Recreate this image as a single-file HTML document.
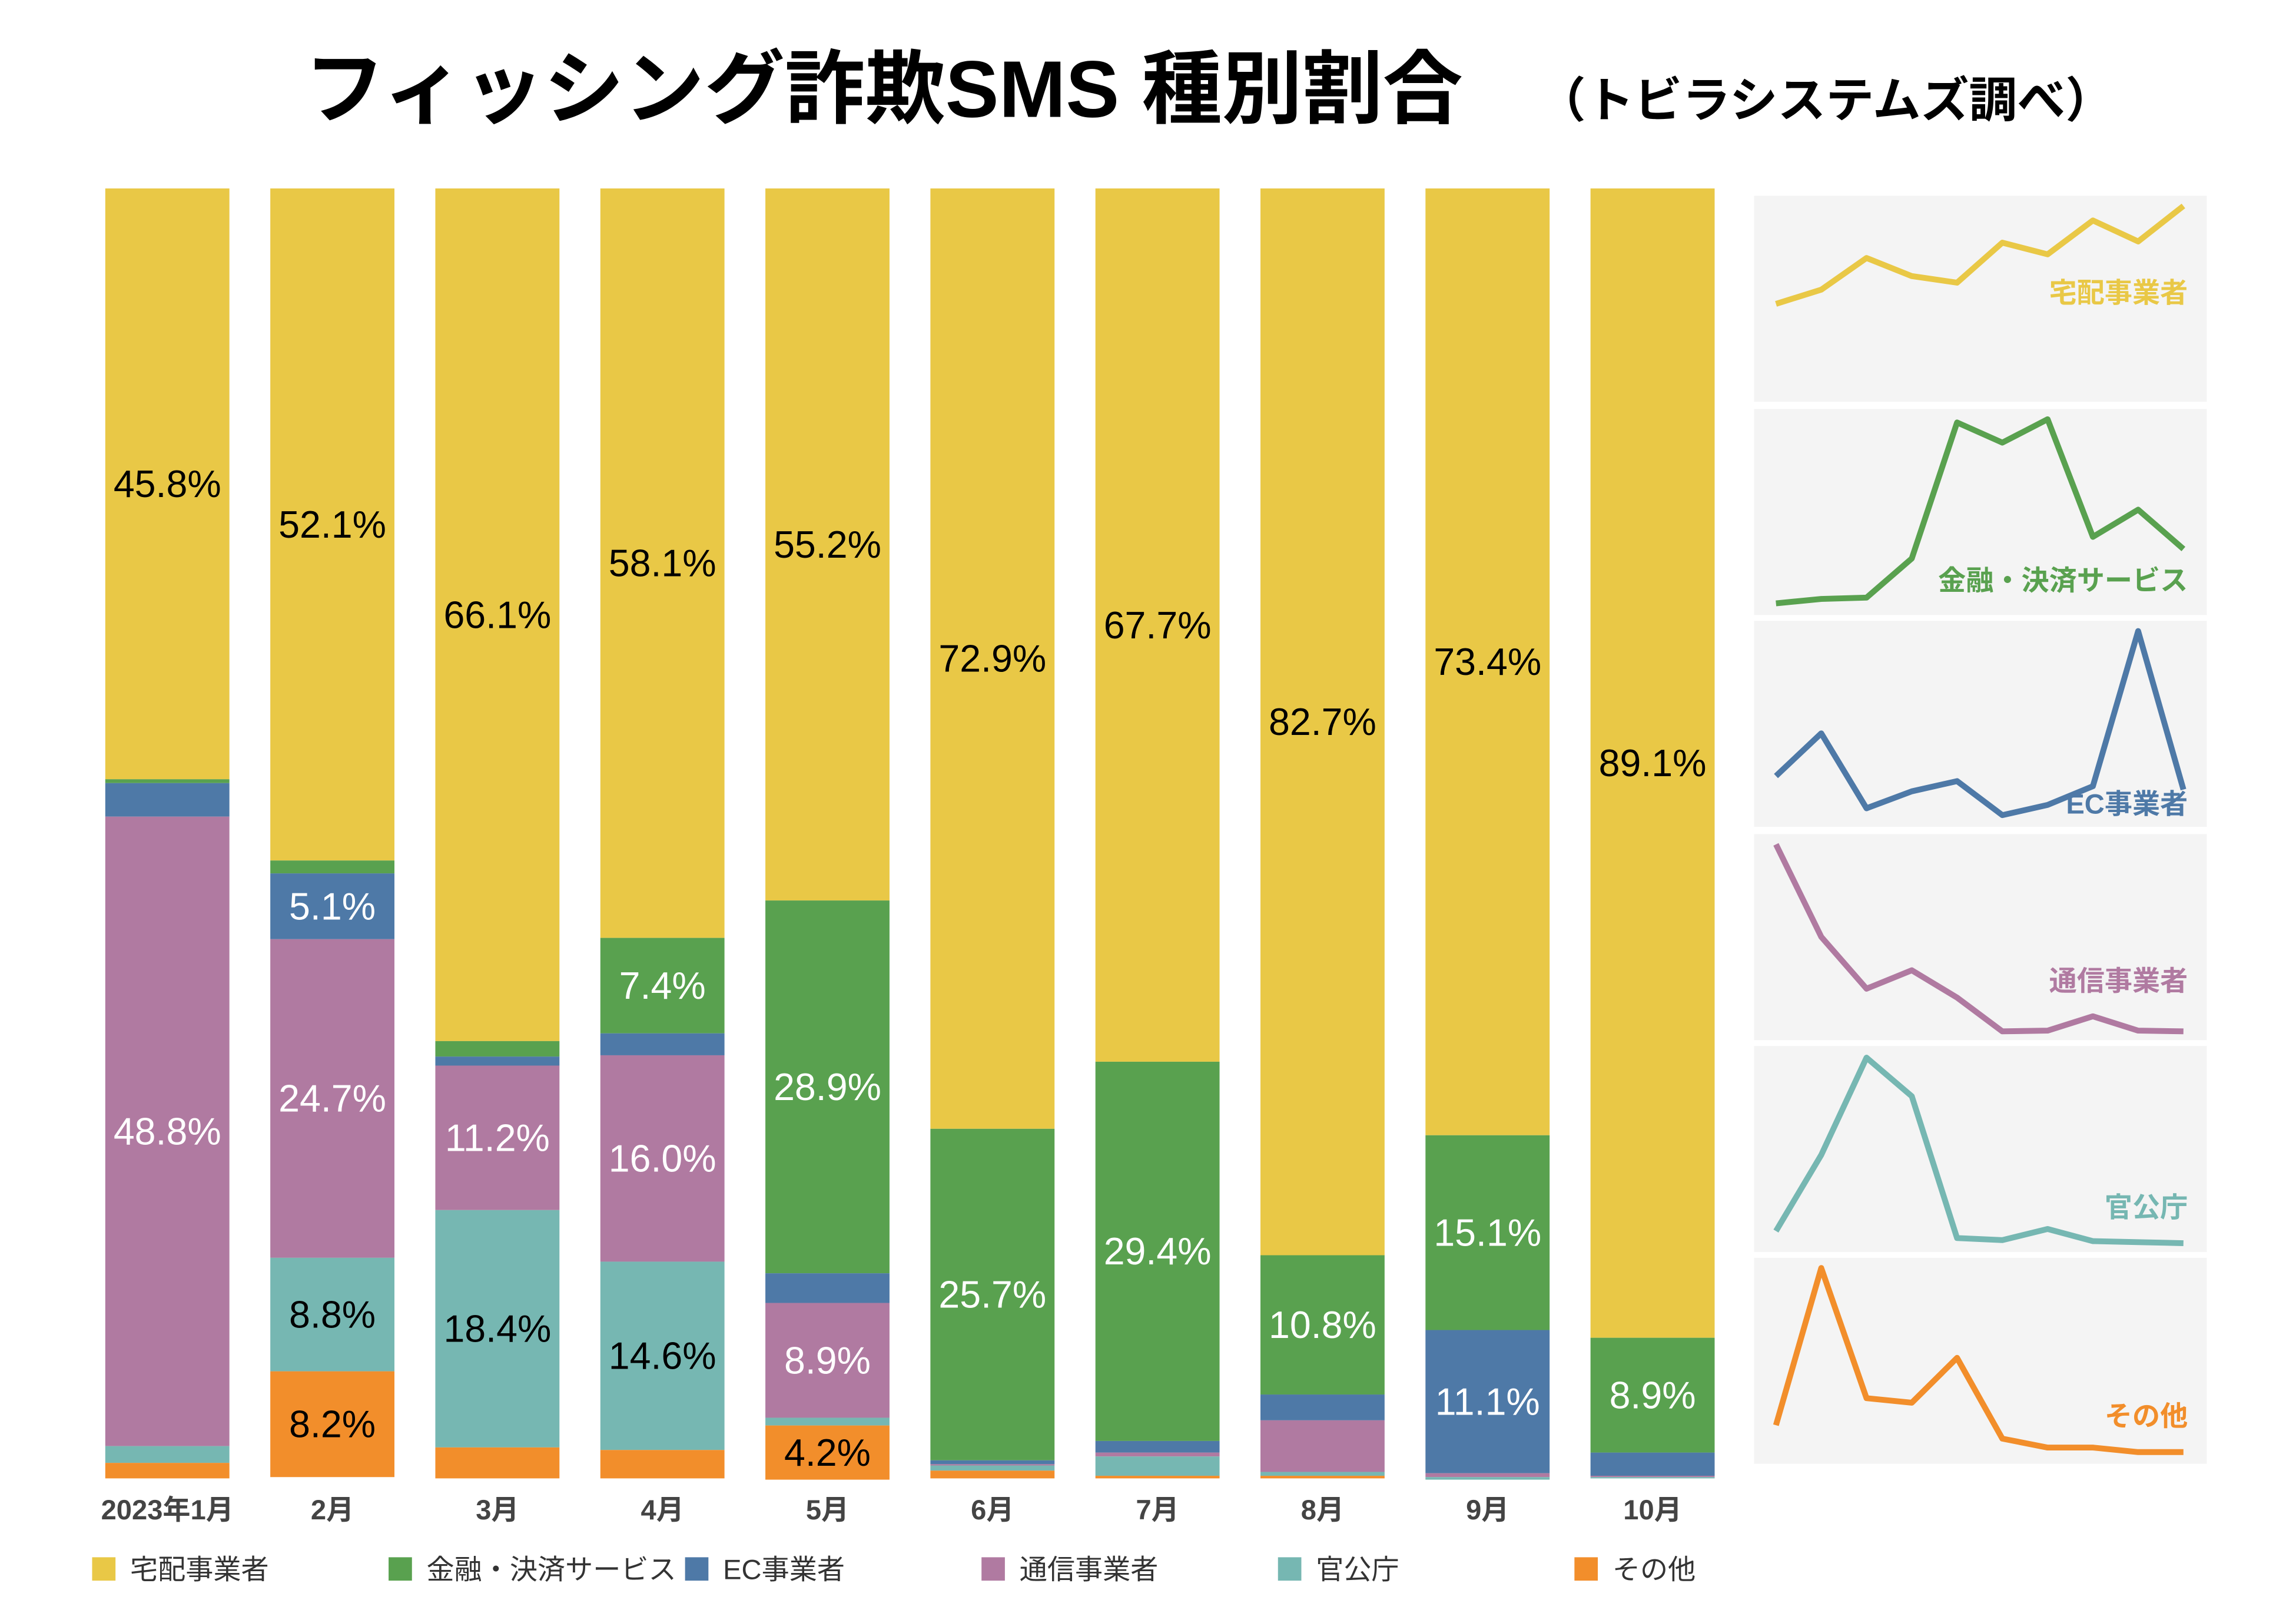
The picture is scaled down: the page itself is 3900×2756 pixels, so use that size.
<!DOCTYPE html>
<html><head><meta charset="utf-8"><style>
html,body{margin:0;padding:0;background:#fff;}
svg{display:block;font-family:"Liberation Sans","Noto Sans CJK JP",sans-serif;}
</style></head><body>
<svg id="chart" width="3900" height="2756" viewBox="0 0 1572 1111" xmlns="http://www.w3.org/2000/svg">
<rect width="1572" height="1111" fill="#fff"/>
<text x="605" y="80" text-anchor="middle" font-size="55" font-weight="bold" fill="#000">フィッシング詐欺SMS 種別割合</text>
<text x="1250" y="80" text-anchor="middle" font-size="33" font-weight="bold" fill="#000">（トビラシステムズ調べ）</text>
<g id="bars"></g><g id="spark"></g><g id="legend"></g>
</svg>
<script>
const months = ["2023年1月","2月","3月","4月","5月","6月","7月","8月","9月","10月"];
const seriesNames = ["宅配事業者","金融・決済サービス","EC事業者","通信事業者","官公庁","その他"];
const delivery = [45.8,52.1,66.1,58.1,55.2,72.9,67.7,82.7,73.4,89.1];
const finance  = [0.3,1.0,1.2,7.4,28.9,25.7,29.4,10.8,15.1,8.9];
const ec       = [2.6,5.1,0.7,1.7,2.3,0.3,0.9,2.0,11.1,1.8];
const telecom  = [48.8,24.7,11.2,16.0,8.9,0.1,0.3,4.0,0.3,0.1];
const gov      = [1.3,8.8,18.4,14.6,0.6,0.4,1.5,0.3,0.2,0.1];
const other    = [1.2,8.2,2.4,2.2,4.2,0.6,0.2,0.2,0.0,0.0];
const series = [delivery,finance,ec,telecom,gov,other];
const colors = ["#E9C846","#59A14F","#4E79A7","#B07AA1","#76B7B2","#F28E2B"];
const labelColors = ["#000","#fff","#fff","#fff","#000","#000"];
const NS="http://www.w3.org/2000/svg";
function mk(tag,attrs,parent){const e=document.createElementNS(NS,tag);for(const k in attrs)e.setAttribute(k,attrs[k]);parent.appendChild(e);return e;}
const barTop=129, barBot=1012, barW=85;
function xBar(i){return 72+i*113;}
function yVal(v){return barTop+(barBot-barTop)*v/100;}
const gb=document.getElementById('bars');
months.forEach((m,i)=>{
  let cum=0;
  series.forEach((s,k)=>{
    const v=s[i];
    const r=mk('rect',{x:xBar(i),y:yVal(cum),width:barW,height:Math.max(0,yVal(cum+v)-yVal(cum)),fill:colors[k]},gb);
    
    
    if(v>=4.1){
      const t=mk('text',{x:xBar(i)+barW/2,y:(yVal(cum)+yVal(cum+v))/2+9,'text-anchor':'middle','font-size':26,fill:labelColors[k]},gb);
      t.textContent=v.toFixed(1)+'%';
      
      
    }
    cum+=v;
  });
  const t=mk('text',{x:xBar(i)+barW/2,y:1040,'text-anchor':'middle','font-size':19,'font-weight':'bold',fill:'#444'},gb);
  t.textContent=m;
  
  
});
// sparklines
const gs=document.getElementById('spark');
const panelTops=[134,280,425,571,716,861], panelH=141;
const topPad=[7,7,7,7,8,7], botPad=[67,8,8,6,6,8];
const labelY=[207,404,557,678,833,976];
series.forEach((s,k)=>{
  const p=mk('rect',{x:1201,y:panelTops[k],width:310,height:panelH,fill:'#F4F4F4'},gs);
  
  
  const mn=Math.min(...s), mx=Math.max(...s);
  const y0=panelTops[k]+panelH-botPad[k], y1=panelTops[k]+topPad[k];
  const pts=s.map((v,i)=>(1216+i*31)+','+(y0-(v-mn)/(mx-mn||1)*(y0-y1)).toFixed(1)).join(' ');
  const l=mk('polyline',{points:pts,fill:'none',stroke:colors[k],'stroke-width':4,'stroke-linejoin':'round'},gs);
  
  
  const t=mk('text',{x:1498,y:labelY[k],'text-anchor':'end','font-size':19,'font-weight':'bold',fill:colors[k]},gs);
  t.textContent=seriesNames[k];
  
  
});
// legend
const gl=document.getElementById('legend');
seriesNames.forEach((n,k)=>{
  const x=63+k*203;
  const r=mk('rect',{x:x,y:1066,width:16,height:16,fill:colors[k]},gl);
  
  
  const t=mk('text',{x:x+26,y:1081,'font-size':19,fill:'#333'},gl);
  t.textContent=n;
  
  
});
</script>
</body></html>
